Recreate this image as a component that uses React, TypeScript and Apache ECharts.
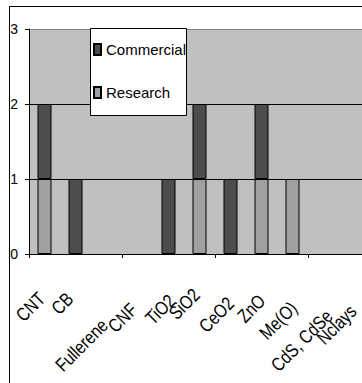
import { useEffect, useRef } from 'react';
import * as echarts from 'echarts';

const categories = ['CNT', 'CB', 'Fullerene', 'CNF', 'TiO2', 'SiO2', 'CeO2', 'ZnO', 'Me(O)', 'CdS, CdSe', 'Nclays'];
const research = [1, 0, 0, 0, 0, 1, 0, 1, 1, 0, 0];
const commercial = [1, 1, 0, 0, 1, 1, 1, 1, 0, 0, 0];
const yMin = 0;
const yMax = 3;
const yInterval = 1;

// style only: where each rotated label starts, relative to its category centre on the x axis
const labelOffsets = [
  [-21.5, 68],
  [-17, 61],
  [-44, 118],
  [-22.5, 79],
  [-16, 71],
  [-23.5, 66],
  [-24.5, 79],
  [-17, 69],
  [-26, 86],
  [-45.5, 118],
  [-30.5, 91],
];

const FONT = "'Liberation Sans', Arial, sans-serif";

export default function App() {
  const ref = useRef<HTMLDivElement>(null);
  useEffect(() => {
    if (!ref.current) return;
    const chart = echarts.init(ref.current, undefined, { renderer: 'svg' });
    const nz = (arr: number[]) => arr.map((v) => (v === 0 ? null : v));
    chart.setOption({
      animation: false,
      backgroundColor: '#fff',
      textStyle: { fontFamily: FONT },
      legend: {
        orient: 'vertical',
        left: 88,
        top: 28,
        data: ['Commercial', 'Research'],
        backgroundColor: 'transparent',
        borderWidth: 0,
        padding: [14, 3, 15, 5],
        itemGap: 28,
        itemWidth: 7,
        itemHeight: 11,
        icon: 'rect',
        textStyle: { fontSize: 15, fontFamily: FONT, color: '#000' },
      },
      grid: { left: 29, top: 29, right: 10, bottom: 146, show: true, backgroundColor: '#C0C0C0', borderWidth: 0 },
      xAxis: {
        type: 'category',
        data: categories,
        axisLine: { lineStyle: { color: '#000', width: 1 } },
        axisTick: { show: true, length: 4, lineStyle: { color: '#000' } },
        axisLabel: { show: false },
      },
      yAxis: {
        type: 'value',
        min: yMin,
        max: yMax,
        interval: yInterval,
        axisLine: { show: true, lineStyle: { color: '#000', width: 1 } },
        axisTick: { show: true, length: 4, lineStyle: { color: '#000' } },
        axisLabel: { fontSize: 14, color: '#000', margin: 11, fontFamily: FONT },
        splitLine: { show: true, showMinLine: false, showMaxLine: true, lineStyle: { color: ['#000', '#000', '#808080'], width: 1 } },
      },
      series: [
        { name: 'Research', type: 'bar', stack: 'total', data: nz(research), barWidth: 14, itemStyle: { color: '#A0A0A0', borderColor: '#000', borderWidth: 1 } },
        { name: 'Commercial', type: 'bar', stack: 'total', data: nz(commercial), barWidth: 14, itemStyle: { color: '#4D4D4D', borderColor: '#000', borderWidth: 1 } },
      ],
    });

    const axisY = chart.convertToPixel({ yAxisIndex: 0 }, yMin) as number;
    const labels = categories.map((c, i) => {
      const cx = chart.convertToPixel({ xAxisIndex: 0 }, c) as number;
      const [dx, dy] = labelOffsets[i];
      return {
        type: 'text',
        x: cx + dx + 2.8,
        y: axisY + dy + 2.8,
        rotation: Math.PI / 4,
        scaleX: 0.82,
        scaleY: 1,
        style: { text: c, fontSize: 19, fontFamily: FONT, fill: '#000', align: 'left', verticalAlign: 'bottom' },
        z: 50,
      };
    });

    chart.setOption({
      graphic: [
        { type: 'rect', shape: { x: 9.5, y: 6.5, width: 700, height: 700 }, style: { fill: 'none', stroke: '#000', lineWidth: 1 }, z: 100 },
        { type: 'rect', shape: { x: 90.5, y: 28.5, width: 96, height: 87 }, style: { fill: '#fff', stroke: '#000', lineWidth: 1 }, z: 3 },
        ...labels,
      ],
    });
    return () => chart.dispose();
  }, []);
  return (
    <div style={{ position: 'fixed', left: 0, top: 0, width: 362, height: 383, overflow: 'hidden', background: '#fff' }}>
      <div ref={ref} style={{ width: 380, height: 400 }} />
    </div>
  );
}
